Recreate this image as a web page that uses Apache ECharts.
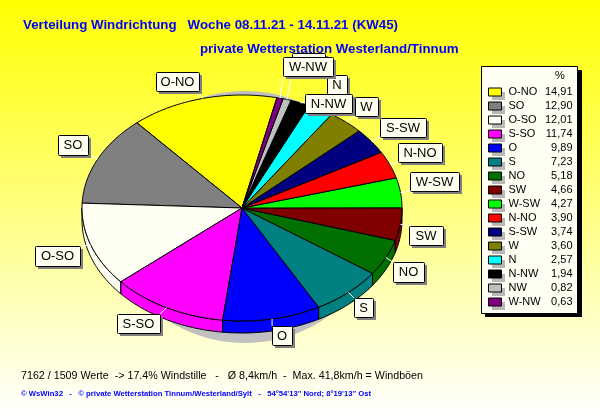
<!DOCTYPE html>
<html><head><meta charset="utf-8">
<style>html,body{margin:0;padding:0;background:#fff}#c{width:600px;height:415px}</style>
<script src="https://cdn.jsdelivr.net/npm/echarts@6/dist/echarts.min.js"></script>
</head><body><div id="c"></div>
<script>
const directions = ['O-NO','SO','O-SO','S-SO','O','S','NO','SW','W-SW','N-NO','S-SW','W','N','N-NW','NW','W-NW'];
const shares = [14.91,12.90,12.01,11.74,9.89,7.23,5.18,4.66,4.27,3.90,3.74,3.60,2.57,1.94,0.82,0.63];
const colors = ['#ffff00','#808080','#fffff4','#ff00ff','#0000ff','#008080','#007000','#800000','#00ff00','#ff0000','#000080','#808000','#00ffff','#000000','#c0c0c0','#800080'];
// label boxes [x0,y0,x1,y1]
const labelBoxes = [[156,72,199,91],[58,135,88,155],[35,246,80,266],[117,314,160,333],[272,326,292,345],[354,298,373,317],[393,262,424,282],[409,226,443,245],[410,172,459,191],[398,143,442,162],[380,118,426,137],[355,97,378,116],[327,75,347,94],[305,94,352,113],[292,53,325,72],[283,57,333,76]];

const CX=242, CY=208, RX=160, RY=113, DEPTH=12, START=12.6;
const total = shares.reduce((a,b)=>a+b,0);
const FONT='"Liberation Sans", Arial, sans-serif';
const bounds=[]; { let t=START; shares.forEach(v=>{const n=t-v/total*360; bounds.push([t,n]); t=n;}); }
const rim=(deg,dy=0)=>{const r=deg*Math.PI/180; return [CX+RX*Math.sin(r), CY-RY*Math.cos(r)+dy];};
function arcPts(a,b,dy){const pts=[];const n=Math.max(2,Math.ceil(Math.abs(a-b)));for(let i=0;i<=n;i++)pts.push(rim(a+(b-a)*i/n,dy));return pts;}

function sliceRender(idx){
  return function(params,api){
    const [a,b]=bounds[idx];
    const color=colors[idx];
    const style={fill:color,stroke:'#000',lineWidth:1};
    const children=[];
    // wall: portion of arc on the front half (90..270 in clockwise-from-top degrees)
    for(const k of [-720,-360,0]){
      const s=Math.max(b,90+k), e=Math.min(a,270+k);
      if(e>s){
        const top=arcPts(e,s,0), bot=arcPts(s,e,DEPTH);
        children.push({type:'polygon',shape:{points:top.concat(bot)},style});
      }
    }
    children.push({type:'polygon',shape:{points:[[CX,CY]].concat(arcPts(a,b,0))},style});
    return {type:'group',children};
  };
}
function labelRender(params,api){
  const i=api.value(0);
  const [x0,y0,x1,y1]=labelBoxes[i];
  const mid=(bounds[i][0]+bounds[i][1])/2;
  const p=rim(mid);
  const q=[Math.min(x1,Math.max(x0,p[0])),Math.min(y1,Math.max(y0,p[1]))];
  return {type:'group',children:[
    {type:'line',shape:{x1:p[0],y1:p[1],x2:q[0],y2:q[1]},style:{stroke:'#fff',lineWidth:1}},
    {type:'rect',shape:{x:x0+3,y:y0+3,width:x1-x0,height:y1-y0},style:{fill:'#808080'}},
    {type:'rect',shape:{x:x0+.5,y:y0+.5,width:x1-x0,height:y1-y0,r:1},style:{fill:'#fffff0',stroke:'#000',lineWidth:1}},
    {type:'text',style:{text:directions[i],x:(x0+x1)/2,y:(y0+y1)/2+.5,align:'center',verticalAlign:'middle',font:'13px '+FONT,fill:'#000'}}
  ]};
}
const series=directions.map((name,i)=>({type:'custom',name,coordinateSystem:'none',silent:true,animation:false,
  itemStyle:{color:colors[i]},data:[[shares[i]]],renderItem:sliceRender(i),z:2}));
series.push({type:'custom',name:'labels',coordinateSystem:'none',silent:true,animation:false,z:3,
  data:directions.map((d,i)=>[i]),renderItem:labelRender});

const chart=echarts.init(document.getElementById('c'),null,{renderer:'canvas'});
chart.setOption({
  animation:false,
  color:colors,
  backgroundColor:{type:'linear',x:0,y:0,x2:0,y2:1,colorStops:[{offset:0,color:'#ffff00'},{offset:1,color:'#ffffff'}]},
  title:[
    {text:'Verteilung Windrichtung   Woche 08.11.21 - 14.11.21 (KW45)',left:23,top:19,padding:0,textStyle:{fontFamily:FONT,fontSize:13.3,fontWeight:'bold',color:'#0000ff'}},
    {text:'private Wetterstation Westerland/Tinnum',left:200,top:43,padding:0,textStyle:{fontFamily:FONT,fontSize:13.3,fontWeight:'bold',color:'#0000ff'}},
    {text:'7162 / 1509 Werte  -> 17.4% Windstille   -   Ø 8,4km/h  -  Max. 41,8km/h = Windböen',left:21,top:371,padding:0,textStyle:{fontFamily:FONT,fontSize:10.7,fontWeight:'normal',color:'#000'}},
    {text:"© WsWin32   -   © private Wetterstation Tinnum/Westerland/Sylt   -   54°54'13'' Nord; 8°19'13'' Ost",left:21,top:390,padding:0,textStyle:{fontFamily:FONT,fontSize:7.7,fontWeight:'bold',color:'#0000ff'}}
  ],
  legend:{orient:'vertical',left:488,top:85,padding:0,itemWidth:13,itemHeight:8,itemGap:0,itemStyle:{borderColor:'#000',borderWidth:1},
    icon:'rect',selectedMode:false,data:directions,
    textStyle:{fontFamily:FONT,fontSize:11,color:'#000',lineHeight:14,padding:[0,0,0,2],
      rich:{n:{width:37,fontFamily:FONT,fontSize:11,lineHeight:14},v:{width:27,align:'right',fontFamily:FONT,fontSize:11,lineHeight:14}}},
    formatter:n=>`{n|${n}}{v|${shares[directions.indexOf(n)].toFixed(2).replace('.',',')}}`},
  graphic:{elements:[
    {type:'ellipse',z:0,shape:{cx:245,cy:217,rx:135,ry:126},style:{fill:'#c0c0c0'},silent:true},
    {type:'rect',z:3,shape:{x:485,y:70,width:97,height:247},style:{fill:'#000'},silent:true},
    {type:'rect',z:3,shape:{x:481.5,y:66.5,width:96,height:247},style:{fill:'#fffff4',stroke:'#000',lineWidth:1},silent:true},
    {type:'text',z:3,style:{text:'%',x:560,y:75.5,align:'center',verticalAlign:'middle',font:'11px '+FONT,fill:'#000'},silent:true},
    ...directions.map((d,i)=>({type:'rect',z:3,shape:{x:492,y:92+14*i,width:13,height:8},style:{fill:'#b8b8b8'},silent:true}))
  ]},
  series
});
</script></body></html>
